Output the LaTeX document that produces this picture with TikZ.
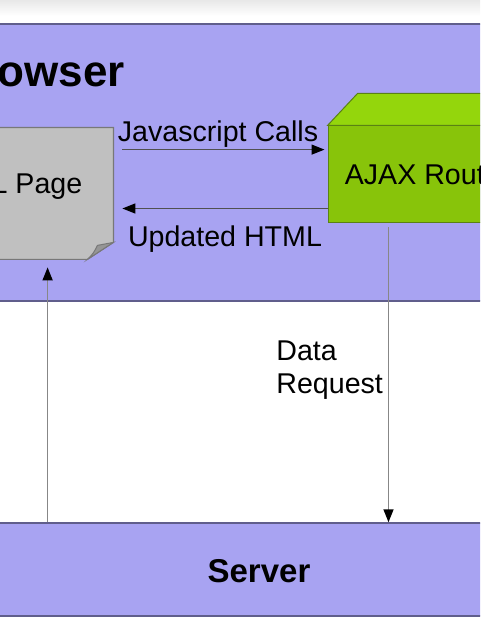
\documentclass[tikz,border=0pt]{standalone}
\usepackage{fontspec}
\setmainfont{Liberation Sans}
\usetikzlibrary{arrows.meta}
\definecolor{lav}{RGB}{168,163,242}
\definecolor{lavline}{RGB}{96,94,140}
\definecolor{pagegray}{RGB}{192,192,192}
\definecolor{pageline}{RGB}{120,120,120}
\definecolor{foldgray}{RGB}{150,150,150}
\definecolor{greenfront}{RGB}{136,196,10}
\definecolor{greentop}{RGB}{148,214,12}
\definecolor{greenline}{RGB}{90,130,20}
\definecolor{darkline}{RGB}{80,80,80}
\definecolor{midline}{RGB}{135,135,135}
\tikzset{
  panel/.style={draw=lavline, line width=0.75pt, fill=lav, minimum width=260pt, inner sep=0pt},
  lbl/.style={font=\fontsize{14.3}{16.5}\selectfont, inner sep=0pt},
  title/.style={font=\bfseries\fontsize{22}{26}\selectfont, inner sep=0pt},
  arr/.style={draw=darkline, line width=0.6pt, -{Triangle[length=6.5pt,width=5pt,fill=black,color=black]}},
  arrv/.style={draw=midline, line width=0.8pt, -{Triangle[length=6.5pt,width=5pt,fill=black,color=black]}},
}
\begin{document}
\begin{tikzpicture}[x=0.5pt,y=-0.5pt]
\useasboundingbox (0,0) rectangle (480,640);
\clip (0,0) rectangle (480,640);
\fill[white] (0,0) rectangle (480,640);
\shade[top color=black!9, bottom color=white] (0,0) rectangle (480,16);

% panels
\node[panel, minimum height=138.5pt] (browser) at (240,162.5) {};
\node[panel, minimum height=46.5pt] (server) at (240,569.5) {};
\node[title, anchor=base] (browserlbl) at (37,87) {Browser};
\node[title, font=\bfseries\fontsize{16.5}{20}\selectfont, anchor=base] (serverlbl) at (259,582) {Server};

% HTML page (note with folded corner)
\node[minimum width=106.5pt, minimum height=65.5pt, inner sep=0pt] (page) at (6.5,193.5) {};
\fill[pagegray, draw=pageline, line width=0.6pt]
  (page.north west) -- (page.north east) -- ([yshift=8.5pt]page.south east)
  -- ([xshift=-13pt]page.south east) -- (page.south west) -- cycle;
\fill[foldgray, draw=pageline, line width=0.5pt]
  ([xshift=-13pt]page.south east) -- ([yshift=8.5pt]page.south east)
  .. controls ([shift={(-4pt,7.5pt)}]page.south east) .. ([shift={(-8pt,7pt)}]page.south east)
  .. controls ([shift={(-10pt,3pt)}]page.south east) .. ([xshift=-13pt]page.south east) -- cycle;
\node[lbl, anchor=base] (pagelbl) at (6,194) {HTML Page};

% AJAX box (3D)
\node[lbl, minimum width=99.5pt, minimum height=48.5pt, fill=greenfront, draw=greenline, line width=0.5pt] (ajax) at (427.5,174.5) {AJAX Router};
\fill[greentop, draw=greenline, line width=0.5pt]
  (ajax.north west) -- ++(15pt,16pt) -- ([shift={(15pt,16pt)}]ajax.north east) -- (ajax.north east) -- cycle;
\fill[greenfront!85!black, draw=greenline, line width=0.5pt]
  (ajax.north east) -- ++(15pt,16pt) -- ([shift={(15pt,16pt)}]ajax.south east) -- (ajax.south east) -- cycle;

% connectors
\coordinate (js1) at ([shift={(4.5pt,-11pt)}]page.north east);
\draw[arr, shorten >=1.5pt] (js1) -- (ajax.west |- js1);
\node[lbl, anchor=base] (jslbl) at (218,142) {Javascript Calls};

\coordinate (up1) at ([yshift=7.5pt]ajax.south west);
\draw[arr, shorten >=4.5pt] (up1) -- (page.east |- up1);
\node[lbl, anchor=base] (uplbl) at (225,247) {Updated HTML};

\coordinate (dr1) at ([xshift=30.5pt]ajax.south west);
\draw[arrv, shorten <=2pt] (dr1) -- (dr1 |- server.north);
\node[lbl, align=left, anchor=base west] (drlbl) at (276,393) {Data\\Request};

\coordinate (ua1) at ([xshift=74pt]page.south west);
\draw[arrv, shorten >=4pt] (ua1 |- server.north) -- (ua1);
\end{tikzpicture}
\end{document}
